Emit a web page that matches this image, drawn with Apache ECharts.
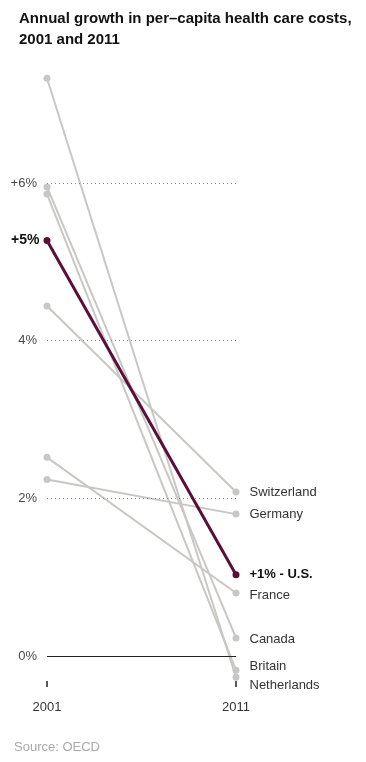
<!DOCTYPE html>
<html><head><meta charset="utf-8">
<script src="https://cdn.jsdelivr.net/npm/echarts@6/dist/echarts.min.js"></script>
<style>html,body{margin:0;padding:0;background:#fff}#c{width:366px;height:762px}</style>
</head><body><div id="c"></div>
<script>
var countries = ['Switzerland','Germany','U.S.','France','Canada','Britain','Netherlands'];
var v2001 = [4.44, 2.24, 5.27, 2.52, 5.95, 5.86, 7.33];
var v2011 = [2.08, 1.80, 1.03, 0.80, 0.23, -0.18, -0.27];
var years = [2001, 2011];
var gridValues = [0, 2, 4, 6];
var gridLabels = ['0%', '2%', '4%', '+6%'];
var usStartLabel = '+5%';
var usEndLabel = '+1% - U.S.';

// label nudges (style only, px) to keep end labels from colliding
var labelNudge = { 'France': 2, 'Canada': 2, 'Britain': -4, 'Netherlands': 8 };

var FONT = 'Liberation Sans, Arial, sans-serif';
var chart = echarts.init(document.getElementById('c'));
var series = [];
countries.forEach(function (name, i) {
  var us = name === 'U.S.';
  var col = us ? '#5b0f38' : '#c9c7c4';
  series.push({
    type: 'line', name: name, z: us ? 5 : 2,
    data: [
      { value: [years[0], v2001[i]], label: us ? { show: true, position: 'left', distance: 4, fontSize: 14, formatter: usStartLabel } : { show: false } },
      { value: [years[1], v2011[i]], label: { show: true, position: 'right', distance: 10, offset: [0, labelNudge[name] || 0], formatter: us ? usEndLabel : name } }
    ],
    symbol: 'circle', symbolSize: 7,
    lineStyle: { width: us ? 3 : 2, color: col },
    itemStyle: { color: col },
    label: {
      fontFamily: FONT,
      fontSize: 13,
      color: us ? '#111' : '#333',
      fontWeight: us ? 'bold' : 'normal'
    },
    emphasis: { disabled: true },
    silent: true
  });
});

series.unshift({
  type: 'line', data: [], z: 1,
  markLine: {
    silent: true, symbol: 'none',
    data: gridValues.map(function (v, i) {
      return {
        yAxis: v,
        lineStyle: v === 0 ? { type: 'solid', color: '#222', width: 1.2 } : { type: [1, 3], color: '#888', width: 1 },
        label: { show: true, position: 'start', formatter: gridLabels[i], distance: 10,
          fontFamily: FONT, fontSize: 13, color: '#4a4a4a' }
      };
    })
  }
});

chart.setOption({
  animation: false,
  title: {
    text: 'Annual growth in per\u2013capita health care costs,\n2001 and 2011',
    left: 14, top: 3,
    textStyle: { fontFamily: FONT, fontWeight: 'bold', fontSize: 15, lineHeight: 21, color: '#111' }
  },
  grid: { left: 47, right: 130, top: 20, bottom: 81 },
  xAxis: {
    type: 'value', min: 2001, max: 2011, interval: 10,
    axisLine: { show: false, onZero: false },
    axisTick: { show: true, length: 6, lineStyle: { color: '#222', width: 1.5 } },
    axisLabel: { margin: 20, fontFamily: FONT, fontSize: 13, color: '#333', formatter: function (v) { return String(v); } },
    splitLine: { show: false }
  },
  yAxis: { type: 'value', min: -0.317, max: 8.068, show: false, splitLine: { show: false } },
  graphic: [{ type: 'text', left: 14, top: 741, style: { text: 'Source: OECD', fontFamily: FONT, fontSize: 13, fill: '#aaa' } }],
  series: series
});
</script></body></html>
